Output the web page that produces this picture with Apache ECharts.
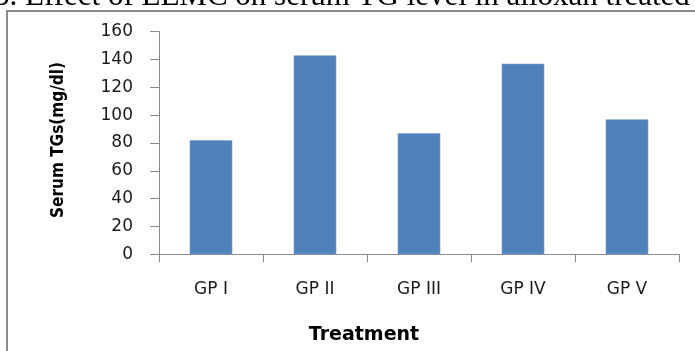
<!DOCTYPE html>
<html>
<head>
<meta charset="utf-8">
<script src="https://cdn.jsdelivr.net/npm/echarts@6/dist/echarts.min.js"></script>
<style>
  html, body { margin: 0; padding: 0; background: #ffffff; }
  #chart { width: 695px; height: 351px; }
</style>
</head>
<body>
<div id="chart"></div>
<script>
// Serum triglyceride level per treatment group
const groups = ['GP I', 'GP II', 'GP III', 'GP IV', 'GP V'];
const serumTG = [82, 143, 87, 137, 97];
const yTicks = { min: 0, max: 160, step: 20 };

const headingText = '3. Effect of EEMC on serum TG level in alloxan treated';
const yTitle = 'Serum TGs(mg/dl)';
const xTitle = 'Treatment';

const chart = echarts.init(document.getElementById('chart'), null, { renderer: 'canvas' });

chart.setOption({
  animation: false,
  backgroundColor: '#ffffff',
  grid: { left: 159, right: 16, top: 31.7, bottom: 96.7, containLabel: false },
  xAxis: {
    type: 'category',
    data: groups,
    boundaryGap: true,
    axisLine: { lineStyle: { color: '#8c8c8c', width: 1 } },
    axisTick: { show: true, length: 8, lineStyle: { color: '#8c8c8c' } },
    axisLabel: { color: '#1a1a1a', fontFamily: 'DejaVu Sans', fontSize: 17, margin: 27 },
    splitLine: { show: false }
  },
  yAxis: {
    type: 'value',
    min: yTicks.min,
    max: yTicks.max,
    interval: yTicks.step,
    axisLine: { show: true, lineStyle: { color: '#8c8c8c', width: 1 } },
    axisTick: { show: true, length: 9, lineStyle: { color: '#8c8c8c' } },
    axisLabel: { color: '#1a1a1a', fontFamily: 'DejaVu Sans', fontSize: 17, margin: 26 },
    splitLine: { show: false }
  },
  series: [{
    type: 'bar',
    data: serumTG,
    barWidth: '41%',
    itemStyle: { color: '#4f81bd', borderColor: '#7d9fcc', borderWidth: 0.6 }
  }],
  graphic: [
    {
      type: 'rect',
      shape: { x: 7, y: 11, width: 720, height: 400 },
      style: { fill: 'none', stroke: '#8a8a8a', lineWidth: 2 },
      silent: true
    },
    {
      type: 'text',
      x: -6, y: 12,
      style: {
        text: headingText,
        font: '31px "Liberation Serif"',
        fill: '#000000',
        textAlign: 'left',
        textVerticalAlign: 'bottom'
      }
    },
    {
      type: 'text',
      x: 59, y: 140,
      rotation: Math.PI / 2,
      style: {
        text: yTitle,
        font: 'bold 17px "DejaVu Sans Condensed"',
        fill: '#000000',
        textAlign: 'center',
        textVerticalAlign: 'middle'
      }
    },
    {
      type: 'text',
      x: 364, y: 335,
      style: {
        text: xTitle,
        font: 'bold 19px "DejaVu Sans"',
        fill: '#000000',
        textAlign: 'center',
        textVerticalAlign: 'middle'
      }
    }
  ]
});
</script>
</body>
</html>
